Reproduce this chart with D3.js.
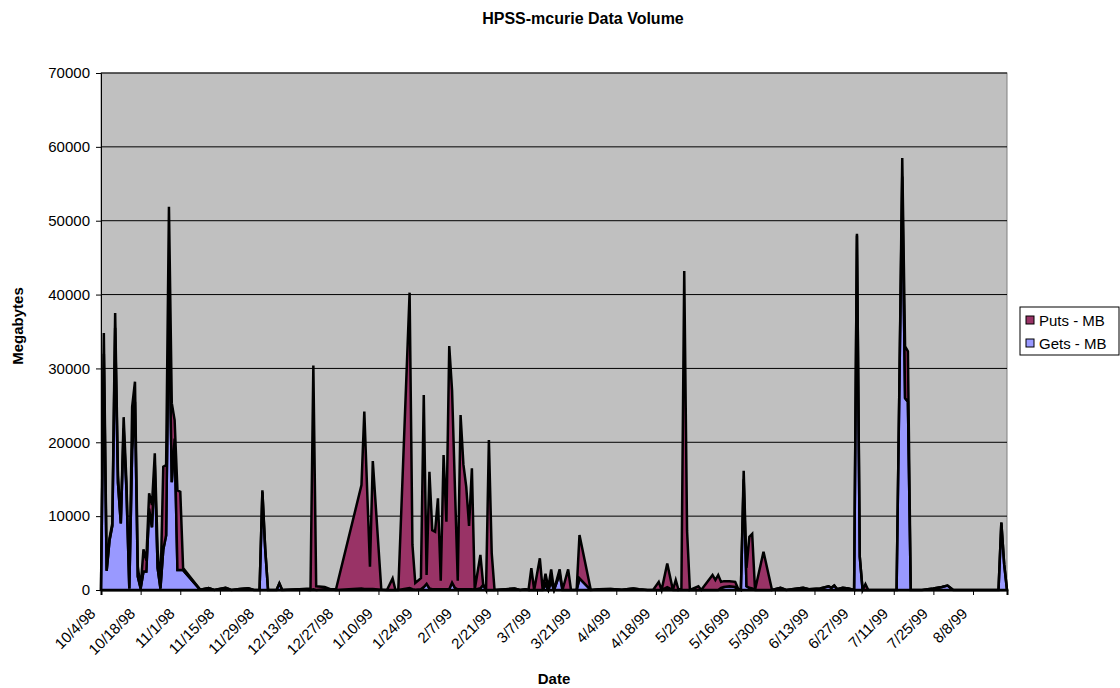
<!DOCTYPE html>
<html>
<head>
<meta charset="utf-8">
<script src="https://cdn.jsdelivr.net/npm/d3@7"></script>
<style>
body { margin: 0; background: #fff; }
text { font-family: "Liberation Sans", Arial, sans-serif; fill: #000; }
</style>
</head>
<body>
<div id="chart"></div>
<script>
// daily totals in MB (missing days are joined by straight lines)
var dates = [
  "10/4/98","10/5/98","10/6/98","10/7/98","10/8/98","10/9/98","10/10/98","10/11/98","10/12/98","10/13/98",
  "10/14/98","10/15/98","10/16/98","10/17/98","10/18/98","10/19/98","10/20/98","10/21/98","10/22/98","10/23/98",
  "10/24/98","10/25/98","10/26/98","10/27/98","10/28/98","10/29/98","10/30/98","10/31/98","11/1/98","11/2/98",
  "11/8/98","11/11/98","11/13/98","11/17/98","11/19/98","11/22/98","11/25/98","11/27/98","11/29/98","11/30/98",
  "12/1/98","12/2/98","12/5/98","12/6/98","12/7/98","12/13/98","12/17/98","12/18/98","12/19/98","12/22/98",
  "12/24/98","12/26/98","1/4/99","1/5/99","1/7/99","1/8/99","1/11/99","1/13/99","1/15/99","1/16/99",
  "1/17/99","1/21/99","1/22/99","1/23/99","1/25/99","1/26/99","1/27/99","1/28/99","1/29/99","1/30/99",
  "1/31/99","2/1/99","2/2/99","2/3/99","2/4/99","2/5/99","2/6/99","2/7/99","2/8/99","2/9/99",
  "2/10/99","2/11/99","2/12/99","2/13/99","2/15/99","2/16/99","2/17/99","2/18/99","2/19/99","2/20/99",
  "2/24/99","2/27/99","3/1/99","3/3/99","3/4/99","3/5/99","3/6/99","3/8/99","3/9/99","3/10/99",
  "3/11/99","3/12/99","3/13/99","3/15/99","3/16/99","3/18/99","3/19/99","3/21/99","3/22/99","3/26/99",
  "3/29/99","4/2/99","4/6/99","4/10/99","4/12/99","4/15/99","4/17/99","4/19/99","4/20/99","4/22/99",
  "4/24/99","4/25/99","4/26/99","4/27/99","4/28/99","4/29/99","4/30/99","5/3/99","5/4/99","5/8/99",
  "5/9/99","5/10/99","5/11/99","5/12/99","5/14/99","5/16/99","5/17/99","5/18/99","5/19/99","5/20/99",
  "5/21/99","5/22/99","5/23/99","5/26/99","5/29/99","6/1/99","6/3/99","6/9/99","6/11/99","6/15/99",
  "6/18/99","6/19/99","6/20/99","6/21/99","6/23/99","6/25/99","6/27/99","6/28/99","6/29/99","6/30/99",
  "7/1/99","7/2/99","7/12/99","7/13/99","7/14/99","7/15/99","7/16/99","7/17/99","7/21/99","7/25/99",
  "7/28/99","7/30/99","8/1/99","8/17/99","8/18/99","8/19/99","8/20/99"
];

var gets = [
  0,32000,2600,6700,8700,35500,14500,9000,21900,13500,
  200,19000,25500,1800,200,2500,2500,11000,8500,17000,
  3000,200,5500,7400,40000,14600,20500,2700,2700,2700,
  50,250,0,300,0,150,250,0,0,13300,
  5500,0,0,900,0,100,0,100,0,100,
  100,0,200,150,150,150,50,0,0,0,
  0,260,100,50,100,400,830,200,100,100,
  100,100,100,100,100,1000,300,100,100,100,
  100,100,100,50,240,700,0,0,0,0,
  100,200,0,100,0,0,0,0,0,800,
  0,1200,0,2200,0,0,0,0,1580,0,
  100,150,50,200,100,0,0,0,0,400,
  0,0,0,0,0,0,0,0,0,0,
  0,0,300,400,500,400,0,0,15000,500,
  300,200,0,0,0,300,0,300,100,200,
  500,300,600,100,300,200,0,48000,4500,0,
  0,0,0,28000,56000,26000,25500,0,0,200,
  400,600,0,0,9130,3500,0
];

var puts = [
  0,2800,500,300,300,2000,1000,250,1500,1000,
  70,5800,2700,1350,70,3000,1500,2100,3000,1500,
  2400,70,11200,9500,11900,10700,2500,10800,10600,260,
  0,0,0,0,0,0,0,0,0,200,
  100,0,0,0,0,0,200,30300,500,300,
  0,100,14000,24000,3000,17300,0,0,1580,0,
  0,40000,6000,900,1500,26000,1200,15800,8000,7800,
  12300,1160,18180,9150,32940,26000,13700,1160,23600,16900,
  13900,8570,16370,0,4500,0,0,20300,5000,0,
  0,0,0,0,0,2940,0,4290,0,1400,
  300,1600,0,600,0,2800,0,0,5870,0,
  0,0,0,0,0,0,0,1100,0,3200,
  0,1350,0,200,43200,8000,0,500,0,2030,
  1350,2030,800,800,700,700,200,0,1150,2500,
  6900,7400,0,5190,0,0,0,0,0,0,
  0,0,0,0,0,0,0,230,0,0,
  800,0,0,0,2500,7000,6800,0,0,0,
  0,0,0,0,0,0,0
];

var seriesNames = ["Puts - MB", "Gets - MB"];
var seriesColors = ["#993366", "#9999FF"];
var yTicks = [0, 10000, 20000, 30000, 40000, 50000, 60000, 70000];
var tickLabels = ["10/4/98","10/18/98","11/1/98","11/15/98","11/29/98","12/13/98","12/27/98",
  "1/10/99","1/24/99","2/7/99","2/21/99","3/7/99","3/21/99","4/4/99","4/18/99","5/2/99",
  "5/16/99","5/30/99","6/13/99","6/27/99","7/11/99","7/25/99","8/8/99"];

var width = 1120, height = 688;
var margin = {top: 73, right: 113, bottom: 98, left: 101};
var plotW = width - margin.left - margin.right;
var plotH = height - margin.top - margin.bottom;

var parse = d3.utcParse("%m/%d/%y");

var table = dates.map(function(d, i) {
    return {date: parse(d), gets: gets[i], puts: puts[i]};
});

var svg = d3.select("#chart").append("svg")
    .attr("width", width)
    .attr("height", height);

var x = d3.scaleUtc()
    .domain([parse("10/4/98"), parse("8/20/99")])
    .range([0, plotW]);

var y = d3.scaleLinear()
    .domain([0, 70000])
    .range([plotH, 0]);

var g = svg.append("g")
    .attr("transform", "translate(" + margin.left + "," + margin.top + ")");

// plot background
g.append("rect")
    .attr("width", plotW)
    .attr("height", plotH)
    .attr("fill", "#C0C0C0")
    .attr("stroke", "#808080")
    .attr("stroke-width", 1);

// gridlines
g.selectAll(".grid")
    .data(yTicks.slice(1))
    .enter().append("line")
    .attr("class", "grid")
    .attr("x1", 0)
    .attr("x2", plotW)
    .attr("y1", function(d) { return y(d); })
    .attr("y2", function(d) { return y(d); })
    .attr("stroke", "#000")
    .attr("stroke-width", 1);

// stacked areas, gets on the bottom
var stack = d3.stack().keys(["gets", "puts"]);
var layers = stack(table);

var area = d3.area()
    .x(function(d) { return x(d.data.date); })
    .y0(function(d) { return y(d[0]); })
    .y1(function(d) { return y(d[1]); });

g.selectAll(".layer")
    .data(layers)
    .enter().append("path")
    .attr("class", "layer")
    .attr("d", area)
    .attr("fill", function(d) { return d.key == "gets" ? seriesColors[1] : seriesColors[0]; })
    .attr("stroke", "#000")
    .attr("stroke-width", 2.5)
    .attr("stroke-linejoin", "miter")
    .attr("stroke-miterlimit", 4);

// y axis
var yAxis = d3.axisLeft(y)
    .tickValues(yTicks)
    .tickSize(5)
    .tickPadding(6)
    .tickFormat(d3.format("d"));

var yg = g.append("g").call(yAxis);
yg.select(".domain").attr("stroke", "#000").attr("stroke-width", 1);
yg.selectAll(".tick line").attr("stroke", "#000");
yg.selectAll("text")
    .style("font-size", "15px")
    .attr("font-family", null);

// x axis
var xAxis = d3.axisBottom(x)
    .tickValues(tickLabels.map(parse))
    .tickSize(5)
    .tickFormat(function(d, i) { return tickLabels[i]; });

var xg = g.append("g")
    .attr("transform", "translate(0," + plotH + ")")
    .call(xAxis);
xg.select(".domain").attr("stroke", "#000").attr("stroke-width", 2);
xg.selectAll(".tick line").attr("stroke", "#000");
xg.selectAll("text")
    .style("font-size", "15px")
    .attr("font-family", null)
    .attr("text-anchor", "end")
    .attr("y", 0)
    .attr("dy", null)
    .attr("transform", "translate(-5,24.5) rotate(-45)");

// titles
svg.append("text")
    .attr("x", 583)
    .attr("y", 24)
    .attr("text-anchor", "middle")
    .style("font-size", "16px")
    .style("font-weight", "bold")
    .text("HPSS-mcurie Data Volume");

svg.append("text")
    .attr("transform", "translate(23,326) rotate(-90)")
    .attr("text-anchor", "middle")
    .style("font-size", "15px")
    .style("font-weight", "bold")
    .text("Megabytes");

svg.append("text")
    .attr("x", 554)
    .attr("y", 684)
    .attr("text-anchor", "middle")
    .style("font-size", "15px")
    .style("font-weight", "bold")
    .text("Date");

// legend
var legend = svg.append("g").attr("transform", "translate(1020,307)");
legend.append("rect")
    .attr("width", 99)
    .attr("height", 48)
    .attr("fill", "#fff")
    .attr("stroke", "#000")
    .attr("stroke-width", 1);

var items = legend.selectAll(".item")
    .data(seriesNames)
    .enter().append("g")
    .attr("class", "item")
    .attr("transform", function(d, i) { return "translate(6," + (9 + i * 23) + ")"; });

items.append("rect")
    .attr("width", 8)
    .attr("height", 8)
    .attr("fill", function(d, i) { return seriesColors[i]; })
    .attr("stroke", "#000")
    .attr("stroke-width", 1);

items.append("text")
    .attr("x", 13)
    .attr("y", 10)
    .style("font-size", "15px")
    .text(function(d) { return d; });
</script>
</body>
</html>
